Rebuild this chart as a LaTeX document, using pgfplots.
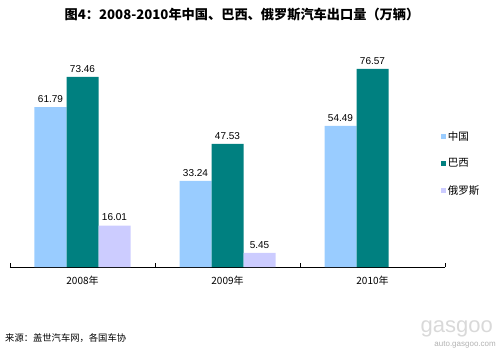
\documentclass[border=0pt]{standalone}
\usepackage{fontspec}
\setmainfont{Liberation Sans}
\newfontfamily\cjk{Noto Sans CJK SC}
\usepackage{pgfplots}
\pgfplotsset{compat=1.18}
\definecolor{cnblue}{HTML}{99CCFF}
\definecolor{brteal}{HTML}{008080}
\definecolor{rulav}{HTML}{CCCCFF}
\begin{document}
\begin{tikzpicture}
\path[use as bounding box] (0,0) rectangle (500pt,354pt);
\begin{axis}[
  at={(10pt,87pt)}, anchor=south west,
  scale only axis, width=435pt, height=220pt,
  xmin=-0.5, xmax=2.5, ymin=0, ymax=85,
  ybar=0pt, bar width=32pt,
  axis x line=bottom, axis y line=none,
  x axis line style={-, black, line width=0.8pt},
  xtick={-0.5,0.5,1.5,2.5},
  x tick label as interval,
  xticklabels={{\cjk 2008年},{\cjk 2009年},{\cjk 2010年}},
  xticklabel style={font=\fontsize{10}{12}\selectfont, yshift=-6pt},
  major tick length=4pt, tick align=inside,
  x tick style={black, line width=0.6pt},
  ytick=\empty,
  nodes near coords,
  every node near coord/.append style={font=\fontsize{10}{12}\selectfont, black, yshift=1pt},
  /pgf/number format/.cd, fixed, precision=2, fixed zerofill, assume math mode=true,
  /pgfplots/.cd,
  legend style={draw=none, fill=none, at={(0.99,0.47)}, anchor=west, inner sep=0pt,
    font=\fontsize{10.5}{12}\selectfont, row sep=13pt,
    legend cell align=left},
  legend image code/.code={\fill[#1] (0pt,-2.5pt) rectangle (5pt,2.5pt);},
]
\addplot[fill=cnblue, draw=none] coordinates {(0,61.79) (1,33.24) (2,54.49)};
\addplot[fill=brteal, draw=none] coordinates {(0,73.46) (1,47.53) (2,76.57)};
\addplot[fill=rulav, draw=none] coordinates {(0,16.01) (1,5.45)};
\legend{{\cjk 中国},{\cjk 巴西},{\cjk 俄罗斯}}
\end{axis}
\node[font=\cjk\bfseries\fontsize{13.2}{15}\selectfont] at (242pt,339pt) {图4：2008-2010年中国、巴西、俄罗斯汽车出口量（万辆）};
\node[font=\cjk\fontsize{9.3}{11}\selectfont, anchor=west, inner sep=0pt] at (5pt,16pt) {来源：盖世汽车网，各国车协};
\node[font=\fontsize{22}{24}\selectfont, text=black!15, anchor=east, inner sep=0pt] at (493pt,25pt) {gasgoo};
\node[font=\fontsize{8}{10}\selectfont, text=black!30, anchor=east, inner sep=0pt] at (496pt,9pt) {auto.gasgoo.com};
\end{tikzpicture}
\end{document}
